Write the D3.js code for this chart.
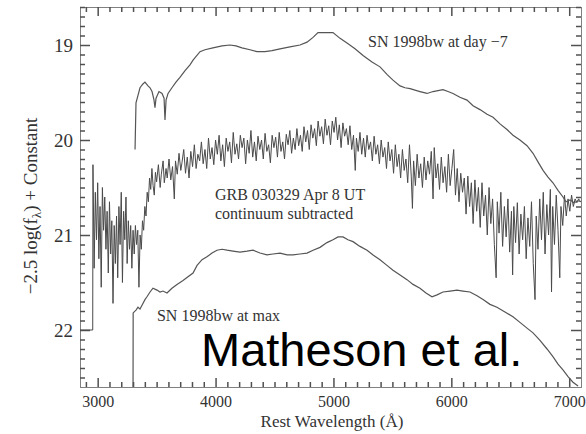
<!DOCTYPE html>
<html><head><meta charset="utf-8">
<script src="https://cdn.jsdelivr.net/npm/d3@7"></script>
<style>body{margin:0;background:#fff}svg{display:block}</style>
</head><body>
<svg id="c" width="586" height="434"></svg>
<script>
// ---- data ----
const xTicks = [3000, 4000, 5000, 6000, 7000];
const yTicks = [19, 20, 21, 22];

const snDay7 = [
[3317,20.10],[3325,19.61],[3342,19.53],[3359,19.45],[3384,19.41],[3401,19.39],[3427,19.43],[3444,19.45],[3461,19.49],[3478,19.58],[3486,19.66],[3495,19.56],[3520,19.49],[3546,19.51],[3563,19.56],[3571,19.79],[3580,19.58],[3597,19.51],[3630,19.45],[3664,19.39],[3698,19.34],[3741,19.27],[3783,19.21],[3809,19.16],[3868,19.07],[3910,19.05],[3978,19.03],[4055,19.01],[4122,19.00],[4173,19.01],[4224,19.03],[4292,19.05],[4351,19.07],[4419,19.07],[4479,19.06],[4547,19.04],[4631,19.02],[4716,19.00],[4776,18.97],[4827,18.92],[4869,18.87],[4928,18.87],[4996,18.87],[5056,18.93],[5115,18.98],[5183,19.04],[5251,19.11],[5327,19.18],[5395,19.23],[5454,19.31],[5505,19.37],[5565,19.43],[5607,19.45],[5650,19.46],[5734,19.49],[5794,19.51],[5845,19.49],[5929,19.47],[5972,19.49],[6014,19.51],[6073,19.55],[6133,19.58],[6184,19.64],[6243,19.68],[6303,19.73],[6354,19.76],[6413,19.83],[6472,19.89],[6523,19.95],[6582,20.00],[6642,20.06],[6693,20.14],[6735,20.23],[6778,20.32],[6820,20.39],[6862,20.45],[6905,20.53],[6947,20.60],[6973,20.65],[7007,20.63],[7041,20.66],[7075,20.64],[7100,20.65]
];

const snMax = [
[3300,22.60],[3301,21.82],[3325,21.79],[3342,21.76],[3359,21.78],[3376,21.74],[3401,21.68],[3418,21.65],[3444,21.60],[3469,21.56],[3503,21.58],[3529,21.60],[3554,21.59],[3588,21.61],[3630,21.56],[3673,21.52],[3724,21.48],[3766,21.44],[3809,21.40],[3843,21.32],[3885,21.26],[3927,21.23],[3970,21.19],[4012,21.16],[4055,21.15],[4097,21.16],[4148,21.17],[4207,21.18],[4267,21.17],[4318,21.16],[4377,21.19],[4436,21.21],[4487,21.20],[4547,21.19],[4606,21.21],[4657,21.21],[4716,21.20],[4776,21.19],[4827,21.16],[4886,21.13],[4945,21.08],[4996,21.05],[5039,21.02],[5081,21.02],[5123,21.05],[5166,21.07],[5225,21.12],[5285,21.16],[5336,21.21],[5395,21.26],[5454,21.32],[5505,21.37],[5565,21.42],[5624,21.47],[5675,21.52],[5734,21.56],[5785,21.61],[5836,21.65],[5879,21.63],[5929,21.60],[5989,21.59],[6048,21.58],[6099,21.59],[6158,21.60],[6218,21.64],[6269,21.68],[6328,21.73],[6387,21.76],[6455,21.81],[6523,21.86],[6582,21.92],[6642,21.98],[6693,22.03],[6752,22.11],[6812,22.20],[6862,22.28],[6905,22.36],[6947,22.42],[6990,22.49],[7032,22.55],[7075,22.59]
];

const grb = [
[2850,22.00],[2958,22.00],[2960,20.26],[2970,21.35],[2980,20.55],[2990,21.05],[3000,20.45],[3010,21.25],[3020,20.70],[3030,21.55],[3040,20.50],[3050,20.95],[3060,20.60],[3070,21.15],[3080,20.75],[3090,21.40],[3100,20.65],[3110,21.20],[3120,20.85],[3130,21.72],[3140,20.90],[3150,21.30],[3160,20.80],[3170,21.45],[3180,20.70],[3190,21.10],[3200,20.55],[3210,21.50],[3220,20.75],[3230,21.05],[3240,20.60],[3250,21.30],[3260,20.85],[3270,21.15],[3280,20.90],[3290,21.35],[3300,20.95],[3310,21.20],[3320,20.90],[3330,21.10],[3340,20.95],[3350,21.55],[3360,21.00],[3370,21.15],[3380,20.85],[3390,20.95],[3400,20.70],[3410,20.80],[3420,20.55],[3430,20.65],[3440,20.40],
[3450,20.52],[3460,20.30],[3470,20.48],[3480,20.58],[3490,20.34],[3500,20.44],[3515,20.26],[3530,20.50],[3540,20.36],[3555,20.22],[3565,20.45],[3580,20.30],[3590,20.40],[3605,20.20],[3620,20.42],[3635,20.28],[3650,20.62],[3660,20.22],[3675,20.36],[3690,20.14],[3705,20.32],[3715,20.24],[3730,20.10],[3745,20.35],[3760,20.18],[3775,20.40],[3790,20.12],[3805,20.28],[3820,20.05],[3835,20.30],[3850,20.15],[3865,20.22],[3880,20.02],[3895,20.25],[3910,20.10],[3925,20.30],[3940,19.98],[3955,20.20],[3970,20.08],[3985,20.26],[4000,20.00],[4015,20.15],[4030,19.95],[4045,20.22],[4060,20.05],[4075,20.28],[4090,19.98],[4105,20.12],[4120,20.02],[4135,20.24],[4150,19.92],[4165,20.15],[4180,20.04],[4195,20.20],[4210,19.95],[4225,20.08],[4240,19.98],[4255,20.25],[4270,20.00],[4285,20.14],[4300,19.90],[4315,20.18],[4330,20.02],[4345,20.22],[4360,19.96],[4375,20.10],[4390,20.00],[4405,20.20],[4420,19.93],[4435,20.12],[4450,20.05],[4465,20.24],[4480,19.95],[4495,20.08],[4510,19.97],[4525,20.18],[4540,19.92],[4555,20.12],[4570,20.02],[4585,20.20],[4600,19.94],[4615,20.05],[4630,19.90],[4645,20.14],[4660,19.98],[4675,20.10],[4690,19.88],[4705,20.06],[4720,19.95],[4735,20.12],[4750,19.86],[4765,20.02],[4780,19.90],[4795,20.10],[4810,19.84],[4825,19.98],[4840,19.88],[4855,20.06],[4870,19.80],[4885,19.96],[4900,19.86],[4915,20.04],[4930,19.78],[4945,19.95],[4960,19.85],[4975,20.05],[4990,19.80],[5005,19.92],[5020,19.76],[5035,20.00],[5050,19.84],[5065,20.08],[5080,19.82],[5095,19.96],[5110,19.88],[5125,20.05],[5140,19.85],[5155,20.10],[5170,19.95],[5185,20.32],[5195,19.98],[5210,20.12],[5225,19.92],[5240,20.15],[5255,19.98],[5270,20.18],[5285,19.95],[5300,20.10],[5315,20.02],[5330,20.22],[5345,19.96],[5360,20.15],[5375,20.05],[5390,20.25],[5405,20.00],[5420,20.18],[5435,20.08],[5450,20.30],[5465,20.02],[5480,20.22],[5495,20.10],[5510,20.35],[5525,20.05],[5540,20.28],[5555,20.15],[5570,20.40],[5585,20.10],[5600,20.32],[5615,20.20],[5630,20.45],[5645,20.05],[5660,20.38],[5670,20.72],[5680,20.22],[5695,20.48],[5710,20.15],[5725,20.40],[5740,20.25],[5755,20.50],[5770,20.18],[5785,20.42],[5800,20.22],[5815,20.36],[5830,20.12],[5845,20.62],[5855,20.08],[5870,20.40],[5885,20.25],[5900,20.52],[5915,20.18],[5930,20.45],[5945,20.28],[5960,20.55],[5975,20.15],[5990,20.48],[6005,20.30],[6020,20.10],[6035,20.58],[6050,20.30],[6065,20.65],[6080,20.35],[6095,20.55],[6110,20.40],[6125,20.78],[6140,20.38],[6155,20.70],[6170,20.45],[6185,20.88],[6200,20.42],[6215,20.75],[6230,20.50],[6245,20.92],[6260,20.45],[6275,20.80],[6290,20.58],[6305,21.00],[6320,20.50],[6335,20.88],[6350,20.62],[6365,21.10],[6380,21.45],[6390,20.65],[6405,20.98],[6420,20.55],[6435,21.12],[6450,20.70],[6465,21.02],[6480,20.62],[6495,21.18],[6510,20.75],[6520,21.42],[6530,20.70],[6545,21.08],[6560,20.66],[6575,21.20],[6590,20.78],[6605,21.05],[6620,20.70],[6635,21.25],[6650,20.82],[6665,21.12],[6680,20.65],[6695,21.30],[6710,21.68],[6720,20.80],[6735,21.15],[6750,20.62],[6765,21.05],[6780,20.55],[6795,21.20],[6810,20.68],[6825,21.00],[6840,20.52],[6850,21.60],[6860,20.70],[6875,21.10],[6890,20.58],[6905,20.95],[6920,21.45],[6930,20.70],[6945,20.90],[6960,20.58],[6975,20.80],[6990,20.62],[7005,20.75],[7020,20.58],[7035,20.70],[7050,20.62],[7065,20.66],[7080,20.62],[7090,20.64]
];

const labels = [
  {text: "SN 1998bw at day \u22127", wl: 5293, mag: 19.02},
  {text: "GRB 030329 Apr 8 UT", wl: 3995, mag: 20.63},
  {text: "continuum subtracted", wl: 3995, mag: 20.83},
  {text: "SN 1998bw at max", wl: 3503, mag: 21.91}
];

// ---- chart ----
const svg = d3.select("#c");
const L = 80, R = 581, T = 7, B = 387;
const x = d3.scaleLinear().domain([2850, 7100]).range([L, R]);
const y = d3.scaleLinear().domain([18.6, 22.6]).range([T, B]);
const frameColor = "#808080";
const tickColor = "#505050";
const serif = "'Liberation Serif','Times New Roman',serif";

svg.append("defs").append("clipPath").attr("id", "clip")
  .append("rect").attr("x", L).attr("y", T).attr("width", R - L).attr("height", B - T);

// frame
svg.append("rect").attr("x", L + 0.5).attr("y", T + 0.5).attr("width", R - L).attr("height", B - T)
  .attr("fill", "none").attr("stroke", frameColor).attr("stroke-width", 1);

// axes: ticks on all four sides, pointing inward
const xMinor = d3.range(2900, 7100, 100).filter(v => v % 1000 !== 0);
const yMinor = d3.range(186, 226).map(v => v / 10).filter(v => Math.round(v * 10) % 10 !== 0);

function styleAxis(g) {
  g.select(".domain").remove();
  g.selectAll(".tick line").attr("stroke", tickColor).attr("stroke-width", 1.5);
}
function addAxis(axis, tx, ty) {
  const g = svg.append("g").attr("transform", `translate(${tx},${ty})`).call(axis);
  styleAxis(g);
  return g;
}
// bottom
addAxis(d3.axisBottom(x).tickValues(xMinor).tickSize(-5).tickFormat(""), 0, B);
const xb = addAxis(d3.axisBottom(x).tickValues(xTicks).tickSize(-9).tickFormat(d3.format("d")), 0, B);
xb.selectAll(".tick text").attr("y", 20).attr("dy", 0).attr("font-family", serif)
  .attr("font-size", 16).attr("fill", "#333");
// top
addAxis(d3.axisTop(x).tickValues(xMinor).tickSize(-5).tickFormat(""), 0, T);
addAxis(d3.axisTop(x).tickValues(xTicks).tickSize(-9).tickFormat(""), 0, T);
// left
addAxis(d3.axisLeft(y).tickValues(yMinor).tickSize(-5).tickFormat(""), L, 0);
const yl = addAxis(d3.axisLeft(y).tickValues(yTicks).tickSize(-10).tickFormat(d3.format("d")), L, 0);
yl.selectAll(".tick text").attr("x", -7).attr("font-family", serif)
  .attr("font-size", 19).attr("fill", "#333");
// right
addAxis(d3.axisRight(y).tickValues(yMinor).tickSize(-5).tickFormat(""), R, 0);
addAxis(d3.axisRight(y).tickValues(yTicks).tickSize(-10).tickFormat(""), R, 0);

// spectra
const line = d3.line().x(d => x(d[0])).y(d => y(d[1]));
const plot = svg.append("g").attr("clip-path", "url(#clip)");
plot.append("path").datum(grb).attr("d", line).attr("fill", "none")
  .attr("stroke", "#4a4a4a").attr("stroke-width", 1).attr("stroke-linejoin", "miter");
plot.append("path").datum(snDay7).attr("d", line).attr("fill", "none")
  .attr("stroke", "#555").attr("stroke-width", 1.2);
plot.append("path").datum(snMax).attr("d", line).attr("fill", "none")
  .attr("stroke", "#555").attr("stroke-width", 1.2);

// annotations
svg.selectAll("text.ann").data(labels).join("text").attr("class", "ann")
  .attr("x", d => x(d.wl)).attr("y", d => y(d.mag))
  .attr("font-family", serif).attr("font-size", 16).attr("fill", "#333")
  .text(d => d.text);

// axis titles
svg.append("text").attr("x", 332).attr("y", 427).attr("text-anchor", "middle")
  .attr("font-family", serif).attr("font-size", 17).attr("fill", "#333")
  .text("Rest Wavelength (\u00C5)");
const yt = svg.append("text").attr("transform", "translate(37,206) rotate(-90)")
  .attr("text-anchor", "middle").attr("font-family", serif).attr("font-size", 19).attr("fill", "#333");
yt.append("tspan").text("\u22122.5 log(f");
yt.append("tspan").attr("font-size", 13).attr("dy", 4).text("\u03BB");
yt.append("tspan").attr("dy", -4).text(") + Constant");

// credit
svg.append("text").attr("x", 201).attr("y", 366)
  .attr("font-family", "'Liberation Sans',Arial,sans-serif").attr("font-size", 47).attr("fill", "#000")
  .text("Matheson et al.");
</script>
</body></html>
